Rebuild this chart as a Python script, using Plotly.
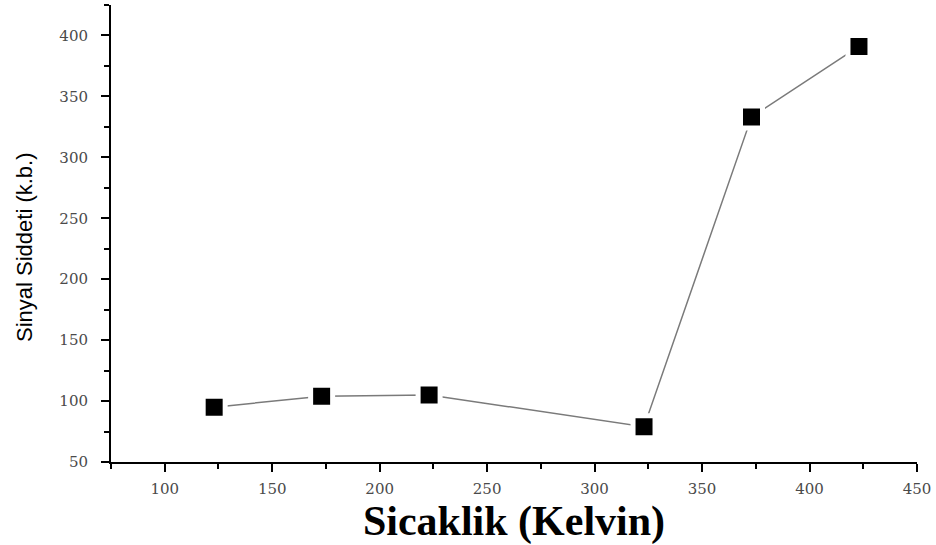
import plotly.graph_objects as go

temperature_k = [123, 173, 223, 323, 373, 423]
signal = [95, 104, 105, 79, 333, 391]
x_ticks = [100, 150, 200, 250, 300, 350, 400, 450]
y_ticks = [50, 100, 150, 200, 250, 300, 350, 400]

fig = go.Figure()
fig.add_trace(go.Scatter(
    x=temperature_k, y=signal, mode="lines+markers",
    line=dict(color="#7a7a7a", width=1.5),
    marker=dict(symbol="square", size=22, color="black",
                line=dict(color="white", width=5)),
    showlegend=False,
))

tickfont = dict(family="DejaVu Serif", size=15, color="#4a4a4a")
fig.update_layout(
    width=936, height=545,
    margin=dict(l=111, r=19, t=5, b=83),
    paper_bgcolor="white", plot_bgcolor="white",
    xaxis=dict(
        range=[75, 450], tickvals=x_ticks, ticks="outside", ticklen=8, tickwidth=2,
        tickcolor="black", showline=True, linecolor="black", linewidth=2,
        showgrid=False, zeroline=False, tickfont=tickfont, ticklabelstandoff=4,
        minor=dict(dtick=25, tick0=75, ticks="outside", ticklen=5, tickwidth=2, tickcolor="black"),
        title=dict(text="<b>Sicaklik (Kelvin)</b>",
                   font=dict(family="Liberation Serif", size=42, color="black"), standoff=4),
    ),
    yaxis=dict(
        range=[50, 425], tickvals=y_ticks, ticks="outside", ticklen=8, tickwidth=2,
        tickcolor="black", showline=True, linecolor="black", linewidth=2,
        showgrid=False, zeroline=False, tickfont=tickfont, ticklabelstandoff=10,
        minor=dict(dtick=25, tick0=50, ticks="outside", ticklen=5, tickwidth=2, tickcolor="black"),
    ),
    annotations=[dict(
        text="Sinyal Siddeti (k.b.)", textangle=-90, showarrow=False,
        xref="paper", yref="paper", x=(24 - 111) / 806, y=(462 - 247) / 457,
        xanchor="center", yanchor="middle",
        font=dict(family="Liberation Sans", size=22, color="black"),
    )],
)
fig.write_html("out.html")
